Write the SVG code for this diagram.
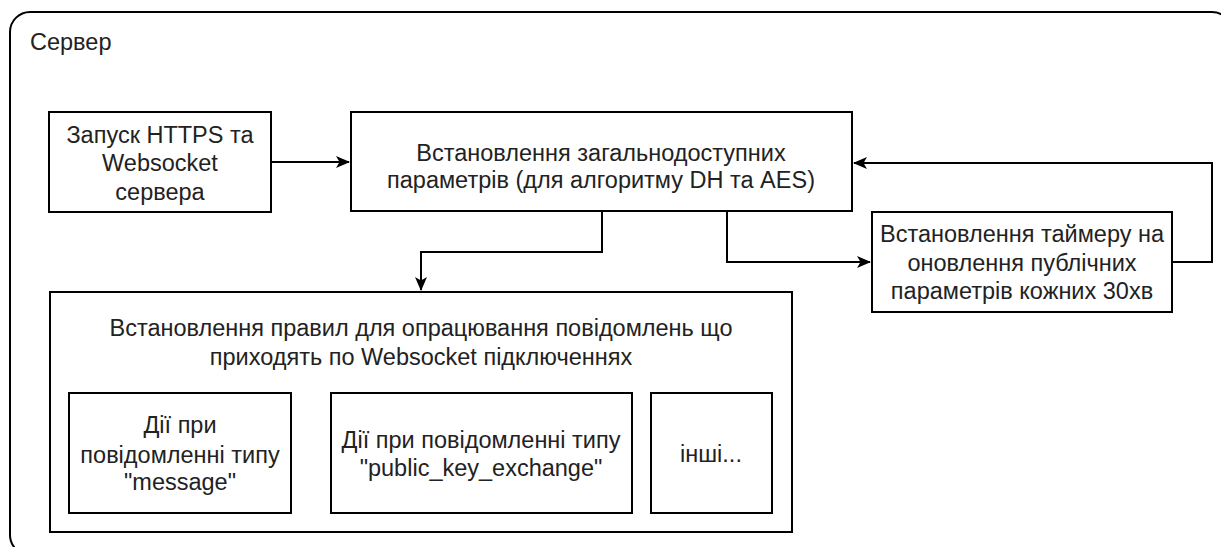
<svg xmlns="http://www.w3.org/2000/svg" width="1221" height="547" viewBox="0 0 1221 547">
  <style>
    .box { fill: #ffffff; stroke: #000000; stroke-width: 2; }
    .cont { fill: #ffffff; stroke: #000000; stroke-width: 2; }
    .t { font-family: "Liberation Sans", Arial, Helvetica, sans-serif; font-size: 23.5px; fill: #222222; text-anchor: middle; }
    .tl { font-family: "Liberation Sans", Arial, Helvetica, sans-serif; font-size: 23.5px; fill: #222222; }
    .edge { fill: none; stroke: #000000; stroke-width: 2; }
  </style>
  <defs>
    <marker id="arr" viewBox="0 0 14 12" refX="13" refY="6" markerWidth="14" markerHeight="12" markerUnits="userSpaceOnUse" orient="auto">
      <path d="M0,0 L14,6 L0,12 L3.5,6 Z" fill="#000000"/>
    </marker>
  </defs>

  <g id="server">
    <rect class="cont" x="10" y="12" width="1222" height="543" rx="20" ry="20"/>
    <text class="tl" x="30" y="50">Сервер</text>
  </g>

  <g id="start">
    <rect class="box" x="49" y="112" width="222" height="100"/>
    <text class="t" x="160" y="143">Запуск HTTPS та</text>
    <text class="t" x="160" y="171">Websocket</text>
    <text class="t" x="160" y="200">сервера</text>
  </g>

  <g id="params">
    <rect class="box" x="351" y="112" width="501" height="99"/>
    <text class="t" x="601" y="161">Встановлення загальнодоступних</text>
    <text class="t" x="601" y="188">параметрів (для алгоритму DH та AES)</text>
  </g>

  <g id="timer">
    <rect class="box" x="872" y="212" width="300" height="100"/>
    <text class="t" x="1022" y="242">Встановлення таймеру на</text>
    <text class="t" x="1022" y="271">оновлення публічних</text>
    <text class="t" x="1022" y="299">параметрів кожних 30хв</text>
  </g>

  <g id="rules">
    <rect class="box" x="50" y="292" width="742" height="240"/>
    <text class="t" x="421" y="336">Встановлення правил для опрацювання повідомлень що</text>
    <text class="t" x="421" y="365">приходять по Websocket підключеннях</text>
  </g>

  <g id="msg">
    <rect class="box" x="69" y="393" width="222" height="120"/>
    <text class="t" x="180" y="433">Дії при</text>
    <text class="t" x="180" y="463">повідомленні типу</text>
    <text class="t" x="180" y="490">"message"</text>
  </g>

  <g id="pke">
    <rect class="box" x="331" y="393" width="301" height="120"/>
    <text class="t" x="481" y="448">Дії при повідомленні типу</text>
    <text class="t" x="481" y="476">"public_key_exchange"</text>
  </g>

  <g id="other">
    <rect class="box" x="651" y="393" width="121" height="120"/>
    <text class="t" x="711" y="462">інші...</text>
  </g>

  <g id="connectors">
    <path class="edge" d="M271,162 L349,162" marker-end="url(#arr)"/>
    <path class="edge" d="M602,211 L602,252 L421,252 L421,290" marker-end="url(#arr)"/>
    <path class="edge" d="M727,211 L727,262 L870,262" marker-end="url(#arr)"/>
    <path class="edge" d="M1172,262 L1212,262 L1212,163 L854,163" marker-end="url(#arr)"/>
  </g>
</svg>
